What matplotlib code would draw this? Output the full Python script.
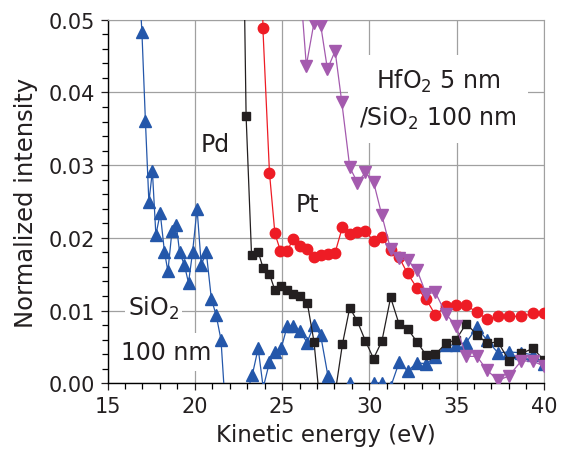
import numpy as np
import matplotlib
matplotlib.use("Agg")
import matplotlib.pyplot as plt
from matplotlib.ticker import MultipleLocator, FormatStrFormatter

plt.rcParams['font.family'] = ['DejaVu Sans']
plt.rcParams['mathtext.fontset'] = 'dejavusans'

# SiO2 100 nm (blue)
sio2_x = [16.77, 16.97, 17.17, 17.37, 17.57, 17.77, 18.02, 18.26, 18.46, 18.69,
          18.94, 19.13, 19.40, 19.64, 19.87, 20.13, 20.37, 20.66, 20.95, 21.22,
          21.50, 21.78, 22.06, 22.36, 22.66, 22.96, 23.29, 23.63, 23.92, 24.28,
          24.59, 24.95, 25.30, 25.64, 26.03, 26.43, 26.83, 27.21, 27.63, 28.04,
          28.46, 28.88, 29.32, 29.78, 30.24, 30.72, 31.22, 31.71, 32.19, 32.73,
          33.25, 33.78, 34.40, 34.97, 35.55, 36.16, 36.75, 37.37, 38.00, 38.71,
          39.38, 40.00]
sio2_y = [0.057, 0.0483, 0.0361, 0.0249, 0.0292, 0.0204, 0.0234, 0.0181, 0.0154, 0.0209,
          0.0218, 0.0180, 0.0163, 0.0138, 0.0180, 0.0240, 0.0163, 0.0180, 0.0116, 0.0094,
          0.0060, -0.0045, -0.006, -0.005, -0.004, -0.0015, 0.0011, 0.0048, -0.0006, 0.0029,
          0.0043, 0.0048, 0.0079, 0.0079, 0.0072, 0.0056, 0.0080, 0.0066, 0.0010, -0.0016,
          -0.003, 0.0001, -0.003, -0.002, 0.0001, 0.0000, -0.0005, 0.0029, 0.0017, 0.0028,
          0.0027, 0.0036, 0.0052, 0.0053, 0.0056, 0.0077, 0.0059, 0.0042, 0.0043, 0.0042,
          0.0039, 0.0027]

# Pd (black)
pd_x = [22.60, 22.94, 23.25, 23.63, 23.92, 24.28, 24.59, 24.95, 25.30, 25.64,
        26.03, 26.45, 26.83, 27.21, 27.63, 28.04, 28.46, 28.88, 29.32, 29.78,
        30.24, 30.72, 31.22, 31.71, 32.19, 32.73, 33.25, 33.78, 34.40, 34.97,
        35.55, 36.16, 36.75, 37.37, 38.00, 38.71, 39.38, 40.00]
pd_y = [0.093, 0.0367, 0.0177, 0.0181, 0.0158, 0.0150, 0.0128, 0.0134, 0.0128, 0.0123,
        0.0120, 0.0110, 0.0057, -0.0038, -0.005, -0.0014, 0.0054, 0.0104, 0.0085, 0.0058,
        0.0034, 0.0058, 0.0118, 0.0081, 0.0075, 0.0057, 0.0039, 0.0040, 0.0055, 0.0060,
        0.0082, 0.0067, 0.0055, 0.0057, 0.0031, 0.0041, 0.0048, 0.0032]

# Pt (red)
pt_x = [23.63, 23.90, 24.28, 24.59, 24.91, 25.30, 25.62, 26.00, 26.41, 26.83,
        27.21, 27.63, 28.03, 28.46, 28.88, 29.32, 29.78, 30.24, 30.72, 31.22,
        31.71, 32.19, 32.73, 33.25, 33.78, 34.40, 34.97, 35.55, 36.16, 36.75,
        37.37, 38.00, 38.71, 39.38, 40.00]
pt_y = [0.30, 0.0489, 0.0289, 0.0206, 0.0182, 0.0182, 0.0198, 0.0189, 0.0184, 0.0174,
        0.0177, 0.0178, 0.0179, 0.0215, 0.0205, 0.0208, 0.0209, 0.0196, 0.0201, 0.0183,
        0.0173, 0.0151, 0.0131, 0.0116, 0.0094, 0.0106, 0.0108, 0.0107, 0.0098, 0.0088,
        0.0092, 0.0092, 0.0092, 0.0096, 0.0097]

# HfO2 5 nm / SiO2 100 nm (purple)
hfo2_x = [26.00, 26.39, 26.83, 27.21, 27.60, 28.04, 28.42, 28.88, 29.32, 29.78,
          30.24, 30.72, 31.22, 31.71, 32.19, 32.73, 33.25, 33.78, 34.40, 34.97,
          35.55, 36.16, 36.75, 37.37, 38.00, 38.71, 39.38, 40.00]
hfo2_y = [0.056, 0.0437, 0.0496, 0.0493, 0.0432, 0.0457, 0.0387, 0.0297, 0.0276, 0.0290,
          0.0277, 0.0231, 0.0184, 0.0172, 0.0169, 0.0156, 0.0123, 0.0125, 0.0095, 0.0079,
          0.0037, 0.0037, 0.0018, 0.0004, 0.0010, 0.0031, 0.0030, 0.0024]

grid_col = '#a0a0a0'

fig = plt.figure(figsize=(5.63, 4.60), dpi=100)
ax = fig.add_axes([0.191, 0.1646, 0.775, 0.7904])

ax.plot(sio2_x, sio2_y, color='#2457aa', lw=0.9, marker='^', ms=8, zorder=3)
ax.plot(pd_x, pd_y, color='#231f20', lw=0.9, marker='s', ms=6.3, zorder=4)
ax.plot(pt_x, pt_y, color='#ee1c25', lw=0.9, marker='o', ms=7.5, zorder=5)
ax.plot(hfo2_x, hfo2_y, color='#a45aae', lw=0.9, marker='v', ms=8, zorder=6)

ax.set_xlim(15, 40)
ax.set_ylim(0, 0.05)
ax.xaxis.set_major_locator(MultipleLocator(5))
ax.xaxis.set_minor_locator(MultipleLocator(1))
ax.yaxis.set_major_locator(MultipleLocator(0.01))
ax.yaxis.set_minor_locator(MultipleLocator(0.002))
ax.yaxis.set_major_formatter(FormatStrFormatter('%.2f'))

ax.set_axisbelow(True)
ax.grid(True, which='major', color=grid_col, lw=0.9)
ax.spines['top'].set_color(grid_col)
ax.spines['right'].set_color(grid_col)
ax.spines['left'].set_linewidth(1.0)
ax.spines['bottom'].set_linewidth(1.0)
ax.tick_params(which='major', direction='out', length=5, width=0.9, labelsize=15,
               colors='#231f20', pad=4, top=False, right=False)
ax.tick_params(which='minor', direction='out', length=4, width=0.9, top=False, right=False)

ax.set_xlabel('Kinetic energy (eV)', fontsize=16.5, color='#231f20', labelpad=5)
ax.set_ylabel('Normalized intensity', fontsize=17.5, color='#231f20', labelpad=8)

tc = '#231f20'
ax.text(21.18, 0.0329, 'Pd', fontsize=17, color=tc, ha='center', va='center', zorder=2)
ax.text(26.45, 0.0247, 'Pt', fontsize=17, color=tc, ha='center', va='center', zorder=2)
ax.text(16.15, 0.0104, 'SiO$_2$', fontsize=17, color=tc, ha='left', va='center',
        bbox=dict(facecolor='white', edgecolor='none', pad=2), zorder=2)
ax.text(15.8, 0.0043, '100 nm', fontsize=17, color=tc, ha='left', va='center',
        bbox=dict(facecolor='white', edgecolor='none', pad=5), zorder=2)
ax.text(33.95, 0.0391, 'HfO$_2$ 5 nm\n/SiO$_2$ 100 nm', fontsize=17, color=tc,
        ha='center', va='center', linespacing=1.5,
        bbox=dict(facecolor='white', edgecolor='none', pad=8), zorder=2)

fig.savefig('out.png', dpi=100)
